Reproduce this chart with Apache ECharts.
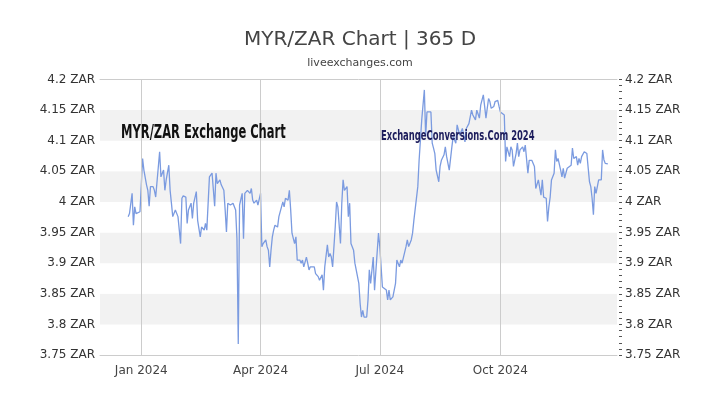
<!DOCTYPE html>
<html>
<head>
<meta charset="utf-8">
<script src="https://cdn.jsdelivr.net/npm/echarts@6/dist/echarts.min.js"></script>
<style>html,body{margin:0;padding:0;background:#fff}#c{width:720px;height:405px}</style>
</head>
<body>
<div id="c"></div>
<script>
const titleText = 'MYR/ZAR Chart | 365 D';
const subtitleText = 'liveexchanges.com';
const watermarkLeft = 'MYR/ZAR Exchange Chart';
const watermarkRight = 'ExchangeConversions.Com 2024';
const monthTicks = ['2024-01-01', '2024-04-01', '2024-07-01', '2024-10-01'];
const monthLabels = ['Jan 2024', 'Apr 2024', 'Jul 2024', 'Oct 2024'];
const xStart = '2023-11-30T12:00:00Z', xEnd = '2024-12-29T00:00:00Z';
const yMin = 3.75, yMax = 4.2, yStep = 0.05;

const dates = [
'2023-12-22','2023-12-23','2023-12-25','2023-12-26','2023-12-27','2023-12-28','2023-12-31',
'2024-01-02','2024-01-03','2024-01-05','2024-01-06','2024-01-07','2024-01-08','2024-01-10','2024-01-11','2024-01-12','2024-01-13','2024-01-15','2024-01-16','2024-01-18','2024-01-19','2024-01-20','2024-01-22','2024-01-23','2024-01-24','2024-01-25','2024-01-27','2024-01-29','2024-01-31',
'2024-02-01','2024-02-02','2024-02-04','2024-02-05','2024-02-06','2024-02-08','2024-02-09','2024-02-10','2024-02-12','2024-02-13','2024-02-15','2024-02-16','2024-02-18','2024-02-19','2024-02-20','2024-02-22','2024-02-24','2024-02-26','2024-02-27','2024-02-28',
'2024-03-01','2024-03-02','2024-03-04','2024-03-05','2024-03-06','2024-03-07','2024-03-09','2024-03-10','2024-03-11','2024-03-13','2024-03-14','2024-03-15','2024-03-16','2024-03-18','2024-03-19','2024-03-20','2024-03-22','2024-03-24','2024-03-25','2024-03-26','2024-03-27','2024-03-29','2024-03-30',
'2024-04-01','2024-04-02','2024-04-03','2024-04-04','2024-04-05','2024-04-06','2024-04-07','2024-04-08','2024-04-09','2024-04-10','2024-04-11','2024-04-12','2024-04-14','2024-04-15','2024-04-17','2024-04-18','2024-04-19','2024-04-20','2024-04-22','2024-04-23','2024-04-24','2024-04-25','2024-04-27','2024-04-28','2024-04-29',
'2024-05-01','2024-05-02','2024-05-03','2024-05-04','2024-05-06','2024-05-07','2024-05-08','2024-05-09','2024-05-10','2024-05-12','2024-05-13','2024-05-14','2024-05-15','2024-05-16','2024-05-18','2024-05-19','2024-05-20','2024-05-22','2024-05-23','2024-05-24','2024-05-25','2024-05-26','2024-05-28','2024-05-29','2024-05-30',
'2024-06-01','2024-06-02','2024-06-03','2024-06-04','2024-06-06','2024-06-07','2024-06-08','2024-06-09','2024-06-11','2024-06-12','2024-06-13','2024-06-15','2024-06-16','2024-06-17','2024-06-18','2024-06-19','2024-06-21','2024-06-22','2024-06-23','2024-06-24','2024-06-26','2024-06-27','2024-06-28','2024-06-30',
'2024-07-01','2024-07-03','2024-07-04','2024-07-06','2024-07-07','2024-07-08','2024-07-09','2024-07-11','2024-07-12','2024-07-13','2024-07-14','2024-07-16','2024-07-17','2024-07-18','2024-07-19','2024-07-21','2024-07-22','2024-07-23','2024-07-25','2024-07-26','2024-07-27','2024-07-28','2024-07-30','2024-07-31',
'2024-08-01','2024-08-02','2024-08-04','2024-08-05','2024-08-06','2024-08-07','2024-08-09','2024-08-10','2024-08-11','2024-08-12','2024-08-13','2024-08-15','2024-08-16','2024-08-17','2024-08-19','2024-08-20','2024-08-21','2024-08-23','2024-08-25','2024-08-26','2024-08-28','2024-08-29','2024-08-31',
'2024-09-02','2024-09-04','2024-09-05','2024-09-07','2024-09-09','2024-09-10','2024-09-12','2024-09-13','2024-09-15','2024-09-16','2024-09-18','2024-09-19','2024-09-20','2024-09-22','2024-09-23','2024-09-24','2024-09-26','2024-09-27','2024-09-29','2024-09-30',
'2024-10-01','2024-10-02','2024-10-04','2024-10-05','2024-10-06','2024-10-08','2024-10-09','2024-10-10','2024-10-11','2024-10-13','2024-10-14','2024-10-15','2024-10-16','2024-10-18','2024-10-19','2024-10-20','2024-10-22','2024-10-23','2024-10-24','2024-10-25','2024-10-27','2024-10-28','2024-10-29','2024-10-30',
'2024-11-01','2024-11-02','2024-11-03','2024-11-05','2024-11-06','2024-11-07','2024-11-08','2024-11-09','2024-11-11','2024-11-12','2024-11-13','2024-11-14','2024-11-16','2024-11-17','2024-11-18','2024-11-19','2024-11-21','2024-11-22','2024-11-24','2024-11-25','2024-11-26','2024-11-28','2024-11-29','2024-11-30',
'2024-12-01','2024-12-02','2024-12-04','2024-12-05','2024-12-06','2024-12-08','2024-12-09','2024-12-10','2024-12-11','2024-12-12','2024-12-13','2024-12-14','2024-12-15','2024-12-17','2024-12-18','2024-12-19','2024-12-20','2024-12-22'
];

const rates = [
3.976,3.981,4.014,3.962,3.992,3.981,3.984,
4.071,4.052,4.028,4.019,3.993,4.025,4.025,4.019,4.008,4.008,4.082,4.041,4.052,4.019,4.036,4.060,4.019,3.998,3.976,3.987,3.976,3.932,
4.006,4.010,4.008,3.965,3.987,3.998,3.973,3.998,4.017,3.970,3.943,3.959,3.954,3.965,3.954,4.041,4.047,3.993,4.047,4.030,
4.036,4.028,4.019,3.987,3.951,3.998,3.995,3.992,3.998,3.987,3.940,3.768,3.995,4.014,3.940,4.014,4.019,4.014,4.022,4.003,3.998,4.003,3.995,
4.014,3.927,3.932,3.930,3.938,3.927,3.921,3.894,3.921,3.943,3.954,3.962,3.959,3.976,3.992,4.000,3.992,4.006,4.003,4.019,3.987,3.949,3.932,3.943,3.905,
3.905,3.900,3.905,3.894,3.910,3.900,3.889,3.894,3.892,3.894,3.883,3.883,3.878,3.872,3.881,3.856,3.894,3.930,3.910,3.916,3.910,3.894,3.959,4.000,3.992,
3.932,3.998,4.036,4.019,4.025,3.976,3.998,3.932,3.921,3.900,3.889,3.867,3.834,3.812,3.823,3.812,3.812,3.840,3.889,3.867,3.910,3.856,3.856,3.949,
3.927,3.861,3.859,3.856,3.840,3.856,3.840,3.845,3.845,3.867,3.905,3.894,3.905,3.900,3.897,3.927,3.938,3.927,3.938,3.949,3.970,3.973,4.025,4.068,
4.066,4.134,4.183,4.107,4.147,4.150,4.147,4.096,4.088,4.079,4.052,4.033,4.058,4.068,4.077,4.090,4.074,4.052,4.090,4.107,4.096,4.126,4.109,
4.120,4.098,4.120,4.128,4.150,4.142,4.134,4.150,4.137,4.158,4.175,4.156,4.137,4.169,4.164,4.153,4.156,4.164,4.166,4.156,
4.147,4.147,4.142,4.066,4.090,4.074,4.090,4.085,4.058,4.079,4.096,4.074,4.085,4.090,4.082,4.093,4.047,4.068,4.068,4.068,4.058,4.022,4.019,4.036,
4.011,4.036,4.008,4.006,3.968,3.992,4.008,4.036,4.047,4.085,4.066,4.071,4.052,4.041,4.055,4.039,4.055,4.058,4.060,4.088,4.071,4.074,4.060,4.071,
4.063,4.074,4.082,4.080,4.079,4.033,4.025,4.006,3.979,4.025,4.014,4.014,4.036,4.036,4.085,4.069,4.063,4.062
];

const ts = d => Date.parse(d + 'T00:00:00Z');
const fmt = v => parseFloat(v.toFixed(2)) + ' ZAR';
const chart = echarts.init(document.getElementById('c'), null, {renderer: 'canvas'});
const seriesData = dates.map((d, i) => [ts(d), rates[i]]);
const tickValues = monthTicks.map(ts);
const labelMap = {};
tickValues.forEach((t, i) => { labelMap[t] = monthLabels[i]; });
const xMin = Date.parse(xStart), xMax = Date.parse(xEnd);

chart.setOption({
  animation: false,
  backgroundColor: '#ffffff',
  title: {
    text: titleText,
    subtext: subtitleText,
    left: 'center',
    top: 25,
    itemGap: 8,
    textStyle: {fontFamily: 'DejaVu Sans', fontSize: 20, fontWeight: 'normal', color: '#444'},
    subtextStyle: {fontFamily: 'DejaVu Sans', fontSize: 11, color: '#444'}
  },
  grid: {left: 100, right: 103, top: 79.5, bottom: 50},
  xAxis: [{
    type: 'value',
    min: xMin,
    max: xMax,
    axisLine: {show: true, lineStyle: {color: '#ccc'}},
    axisTick: {show: false},
    splitLine: {show: false},
    axisLabel: {
      customValues: tickValues,
      formatter: v => labelMap[v] || '',
      margin: 10,
      fontFamily: 'DejaVu Sans', fontSize: 12, color: '#444'
    }
  }, {
    type: 'value',
    position: 'top',
    min: xMin,
    max: xMax,
    axisLine: {show: true, lineStyle: {color: '#ccc'}},
    axisTick: {show: false},
    axisLabel: {show: false},
    splitLine: {show: false}
  }],
  yAxis: [{
    type: 'value',
    min: yMin, max: yMax, interval: yStep,
    position: 'left',
    axisLine: {show: false},
    axisTick: {show: false},
    splitLine: {show: false},
    splitArea: {show: true, areaStyle: {color: ['#ffffff', '#f2f2f2']}},
    axisLabel: {formatter: fmt, margin: 5, fontFamily: 'DejaVu Sans', fontSize: 12, color: '#333'}
  }, {
    type: 'value',
    min: yMin, max: yMax, interval: yStep,
    position: 'right',
    offset: 2,
    axisLine: {show: false},
    axisTick: {show: true, length: 3, lineStyle: {color: '#555'}},
    minorTick: {show: true, splitNumber: 5, length: 3, lineStyle: {color: '#555'}},
    splitLine: {show: false},
    axisLabel: {formatter: fmt, margin: 6, fontFamily: 'DejaVu Sans', fontSize: 12, color: '#333'}
  }],
  graphic: {
    elements: [{
      type: 'text', x: 121, y: 123, scaleX: 0.575, z: 100, zlevel: 0,
      style: {text: watermarkLeft, fill: '#111111', fontFamily: 'DejaVu Sans', fontWeight: 'bold', fontSize: 20}
    }, {
      type: 'text', x: 381, y: 129, scaleX: 0.6, z: 100, zlevel: 0,
      style: {text: watermarkRight, fill: '#1c1c5c', fontFamily: 'DejaVu Sans', fontWeight: 'bold', fontSize: 14}
    }]
  },
  series: [{
    type: 'line',
    xAxisIndex: 0, yAxisIndex: 0,
    data: seriesData,
    showSymbol: false,
    symbol: 'none',
    lineStyle: {color: '#7b9be0', width: 1.3},
    markLine: {
      silent: true,
      symbol: 'none',
      label: {show: false},
      lineStyle: {color: '#cccccc', width: 1, type: 'solid'},
      data: tickValues.map(t => ({xAxis: t}))
    },
    z: 3
  }]
});
</script>
</body>
</html>
